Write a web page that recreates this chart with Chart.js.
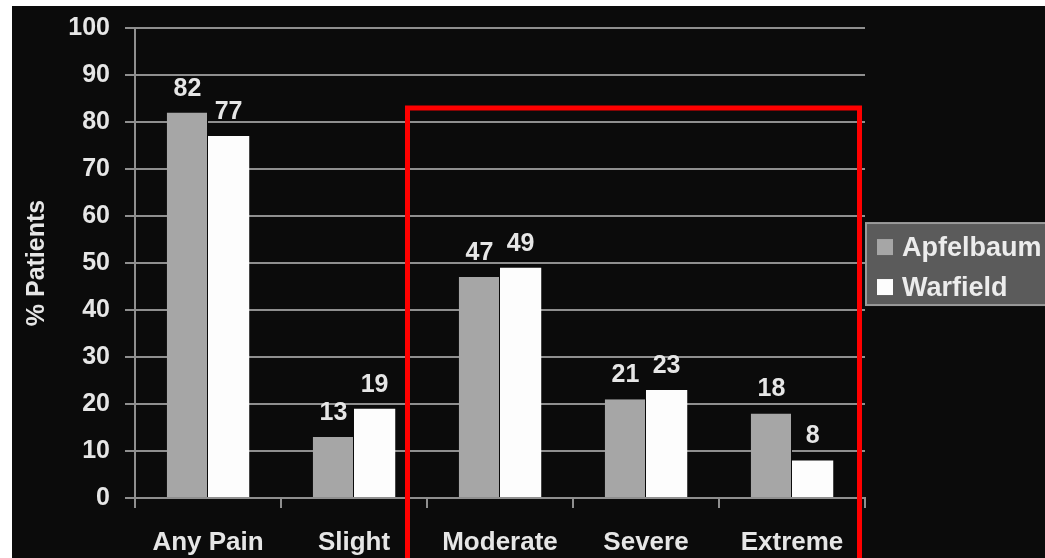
<!DOCTYPE html>
<html><head><meta charset="utf-8">
<script src="https://cdn.jsdelivr.net/npm/chart.js@4"></script>
<style>
html,body{margin:0;padding:0;background:#fff;width:1045px;height:558px;overflow:hidden}
#wrap{position:absolute;left:12px;top:6px;width:1033px;height:552px;background:#0b0b0b}
canvas{display:block}
</style></head><body>
<div id="wrap"><canvas id="c" width="1033" height="552"></canvas></div>
<script>
const categories = ["Any Pain", "Slight", "Moderate", "Severe", "Extreme"];
const seriesNames = ["Apfelbaum", "Warfield"];
const apfelbaum = [82, 13, 47, 21, 18];
const warfield = [77, 19, 49, 23, 8];
const yMin = 0, yMax = 100, yStep = 10;
const yTitle = "% Patients";
const highlightFrom = 2, highlightTo = 4, highlightTop = 83;

const FONT = '"Liberation Sans", Arial, sans-serif';
const TXT = '#e6e6e6';
const GRID = '#8f8f8f';

const dataLabels = {
  id: 'dataLabels',
  afterDatasetsDraw(chart) {
    const ctx = chart.ctx;
    ctx.save();
    ctx.font = 'bold 25px ' + FONT;
    ctx.fillStyle = TXT;
    ctx.textAlign = 'center';
    ctx.textBaseline = 'alphabetic';
    chart.data.datasets.forEach((ds, i) => {
      chart.getDatasetMeta(i).data.forEach((bar, j) => {
        ctx.fillText(String(ds.data[j]), bar.x, bar.y - 17);
      });
    });
    ctx.restore();
  }
};

const legendBox = {
  id: 'legendBox',
  afterDraw(chart) {
    const ctx = chart.ctx, ca = chart.chartArea, y = chart.scales.y;
    const left = ca.right + 1;
    const top = y.getPixelForValue(58.5);
    const h = 82;
    ctx.save();
    ctx.fillStyle = '#5b5b5b';
    ctx.strokeStyle = '#9a9a9a';
    ctx.lineWidth = 2;
    ctx.fillRect(left, top, 300, h);
    ctx.strokeRect(left, top, 300, h);
    ctx.font = 'bold 27px ' + FONT;
    ctx.textBaseline = 'middle';
    ctx.textAlign = 'left';
    chart.data.datasets.forEach((ds, i) => {
      const cy = top + 24 + i * 40;
      ctx.fillStyle = ds.backgroundColor;
      ctx.fillRect(left + 11, cy - 8, 16, 16);
      ctx.fillStyle = '#ececec';
      ctx.fillText(ds.label, left + 36, cy + 1);
    });
    ctx.restore();
  }
};

const redBox = {
  id: 'redBox',
  afterDraw(chart) {
    const ctx = chart.ctx, x = chart.scales.x, y = chart.scales.y;
    const cw = x.getPixelForValue(1) - x.getPixelForValue(0);
    const l = x.getPixelForValue(highlightFrom) - cw / 2 - 19.5;
    const r = x.getPixelForValue(highlightTo) + cw / 2 - 5.5;
    const t = y.getPixelForValue(highlightTop);
    ctx.save();
    ctx.strokeStyle = '#ff0000';
    ctx.lineWidth = 5;
    ctx.beginPath();
    ctx.moveTo(l, chart.height + 10);
    ctx.lineTo(l, t);
    ctx.lineTo(r, t);
    ctx.lineTo(r, chart.height + 10);
    ctx.stroke();
    ctx.restore();
  }
};

new Chart(document.getElementById('c'), {
  type: 'bar',
  data: {
    labels: categories,
    datasets: [
      { label: seriesNames[0], data: apfelbaum, backgroundColor: '#a6a6a6', borderColor: '#0b0b0b', borderWidth: {left:0,right:1,top:0,bottom:0} },
      { label: seriesNames[1], data: warfield, backgroundColor: '#fdfdfd', borderColor: '#0b0b0b', borderWidth: 0 }
    ]
  },
  options: {
    responsive: false,
    devicePixelRatio: 1,
    animation: false,
    layout: { padding: { top: 22, right: 180, left: 0, bottom: 0 } },
    datasets: { bar: { categoryPercentage: 0.565, barPercentage: 1 } },
    plugins: { legend: { display: false }, tooltip: { enabled: false } },
    scales: {
      x: {
        afterFit(s) { s.height = 60; s.paddingLeft = 0; s.paddingRight = 0; },
        grid: { display: true, drawOnChartArea: false, drawTicks: true, tickLength: 10, offset: true, color: GRID, lineWidth: 2 },
        border: { display: true, color: GRID, width: 2 },
        ticks: { color: TXT, padding: 19, font: { family: FONT, size: 26, weight: 'bold' } }
      },
      y: {
        min: yMin, max: yMax,
        afterFit(s) { s.width = 123; s.paddingTop = 0; s.paddingBottom = 0; },
        ticks: { stepSize: yStep, color: TXT, padding: 15, font: { family: FONT, size: 25, weight: 'bold' } },
        grid: { color: GRID, lineWidth: 2, tickLength: 10 },
        border: { display: true, color: GRID, width: 2 },
        title: { display: true, text: yTitle, color: TXT, padding: { top: 10, bottom: 0 }, font: { family: FONT, size: 25, weight: 'bold' } }
      }
    }
  },
  plugins: [dataLabels, redBox, legendBox]
});
</script>
</body></html>
